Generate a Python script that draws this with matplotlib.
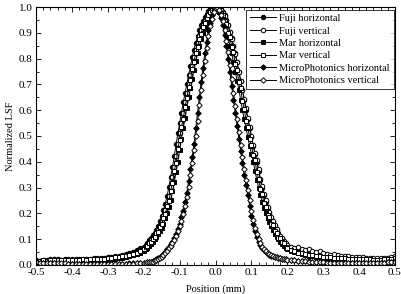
import numpy as np
import matplotlib
matplotlib.use("Agg")
import matplotlib.pyplot as plt
from matplotlib.ticker import MultipleLocator, FormatStrFormatter

plt.rcParams['font.family'] = 'serif'
plt.rcParams['font.serif'] = ['Liberation Serif', 'DejaVu Serif']
plt.rcParams['axes.unicode_minus'] = False

# position grid (mm): 0.01 steps in the tails, 0.005 steps in the core
position = np.round(np.concatenate([
    np.arange(-0.50, -0.205, 0.01),
    np.arange(-0.20, 0.2001, 0.005),
    np.arange(0.21, 0.5001, 0.01),
]), 3)

fuji_h = [
    .018, .017, .020, .019, .022, .021, .023, .020, .022, .021,
    .022, .021, .022, .023, .023, .024, .025, .025, .026, .027,
    .029, .031, .033, .036, .039, .042, .046, .051, .057, .064,
    .071, .078, .086, .095, .105, .115, .125, .137, .152, .170,
    .190, .212, .237, .267, .302, .340, .380, .422, .467, .510,
    .550, .590, .630, .667, .702, .737, .772, .805, .835, .862,
    .887, .910, .930, .947, .962, .975, .985, .992, .997, .999,
    1.000,
    .999, .997, .990, .980, .968, .950, .930, .905, .880, .850,
    .820, .785, .750, .715, .680, .640, .600, .565, .530, .495,
    .460, .430, .400, .365, .330, .300, .270, .245, .220, .200,
    .180, .165, .150, .135, .120, .110, .100, .090, .080, .072,
    .065, .059, .054, .050, .047, .044, .041, .039, .037, .035,
    .033, .032, .031, .030, .029, .028, .027, .026, .026, .025,
    .025, .024, .024, .024, .023, .023, .024, .025, .027, .030,
]

fuji_v = [
    .017, .015, .019, .016, .018, .021, .017, .019, .020, .017,
    .019, .020, .019, .020, .021, .020, .021, .023, .022, .024,
    .025, .026, .028, .030, .033, .035, .038, .042, .048, .055,
    .064, .071, .079, .086, .095, .105, .115, .125, .137, .152,
    .170, .190, .212, .237, .267, .302, .340, .380, .422, .467,
    .510, .550, .590, .630, .667, .702, .737, .772, .805, .835,
    .862, .887, .910, .930, .947, .962, .975, .985, .993, .998,
    1.000,
    .998, .994, .988, .978, .966, .950, .930, .905, .878, .850,
    .818, .785, .750, .715, .680, .645, .608, .570, .535, .500,
    .465, .435, .405, .370, .335, .305, .275, .250, .225, .205,
    .185, .170, .155, .140, .125, .113, .103, .093, .084, .076,
    .070, .066, .068, .062, .058, .060, .055, .050, .052, .046,
    .043, .040, .041, .037, .035, .034, .033, .031, .032, .030,
    .029, .028, .028, .027, .026, .026, .027, .028, .030, .033,
]

mar_h = [
    .012, .013, .014, .013, .015, .016, .015, .016, .016, .015,
    .016, .016, .017, .017, .017, .018, .018, .019, .019, .020,
    .021, .022, .024, .026, .028, .030, .033, .037, .042, .048,
    .055, .060, .067, .075, .082, .090, .100, .110, .120, .130,
    .145, .160, .180, .200, .225, .250, .285, .320, .360, .400,
    .445, .490, .530, .570, .610, .650, .685, .720, .755, .790,
    .820, .850, .875, .900, .920, .940, .955, .970, .980, .990,
    1.000,
    .990, .980, .968, .950, .930, .905, .880, .850, .820, .785,
    .750, .715, .680, .640, .600, .565, .530, .495, .460, .430,
    .400, .365, .330, .300, .270, .245, .220, .200, .180, .165,
    .150, .135, .120, .110, .100, .090, .080, .072, .065, .060,
    .054, .049, .045, .042, .039, .036, .034, .032, .030, .028,
    .026, .025, .024, .023, .022, .021, .020, .019, .019, .018,
    .018, .017, .017, .017, .016, .016, .017, .018, .020, .022,
]

mar_v = [
    .015, .016, .018, .017, .019, .020, .018, .020, .019, .018,
    .020, .019, .020, .021, .020, .021, .022, .022, .023, .024,
    .025, .027, .029, .031, .033, .035, .038, .042, .046, .052,
    .060, .068, .074, .083, .089, .101, .108, .122, .128, .147,
    .158, .183, .197, .228, .247, .288, .317, .364, .396, .449,
    .486, .534, .566, .614, .646, .689, .716, .759, .786, .823,
    .847, .878, .897, .922, .938, .957, .968, .982, .988, .997,
    1.000,
    .996, .991, .978, .970, .947, .933, .901, .884, .846, .824,
    .780, .755, .710, .685, .635, .605, .560, .535, .490, .465,
    .425, .405, .360, .335, .295, .275, .240, .225, .195, .185,
    .160, .155, .130, .125, .105, .103, .087, .083, .070, .067,
    .058, .052, .048, .045, .042, .040, .037, .035, .033, .031,
    .030, .029, .028, .027, .026, .025, .024, .024, .023, .022,
    .022, .021, .021, .020, .020, .020, .021, .022, .024, .027,
]

micro_h = [
    .008, .007, .007, .006, .006, .006, .005, .005, .005, .005,
    .004, .004, .004, .004, .004, .004, .004, .004, .004, .004,
    .004, .004, .004, .005, .005, .005, .006, .006, .007, .007,
    .008, .009, .010, .011, .012, .015, .018, .021, .025, .030,
    .035, .042, .050, .060, .070, .080, .090, .105, .120, .140,
    .160, .185, .210, .245, .280, .325, .370, .420, .470, .530,
    .590, .650, .710, .765, .820, .865, .910, .940, .970, .990,
    1.000,
    .993, .980, .958, .930, .890, .850, .800, .750, .695, .640,
    .590, .540, .490, .440, .395, .350, .310, .270, .230, .190,
    .160, .130, .110, .090, .077, .065, .057, .050, .045, .040,
    .036, .033, .031, .029, .027, .025, .024, .022, .021, .020,
    .019, .018, .017, .016, .015, .014, .013, .012, .011, .010,
    .009, .009, .008, .008, .008, .007, .007, .007, .006, .006,
    .006, .006, .006, .007, .007, .008, .009, .010, .012, .014,
]

micro_v = [
    .010, .009, .008, .008, .007, .007, .006, .006, .006, .005,
    .005, .005, .005, .005, .004, .004, .004, .004, .004, .004,
    .004, .004, .004, .004, .005, .005, .005, .005, .006, .006,
    .007, .008, .010, .010, .012, .013, .016, .020, .023, .027,
    .032, .038, .046, .055, .065, .075, .085, .097, .112, .130,
    .150, .172, .197, .227, .262, .302, .347, .395, .445, .500,
    .560, .620, .680, .737, .792, .842, .887, .925, .955, .980,
    .998,
    1.000, .987, .969, .944, .910, .870, .825, .775, .722, .667,
    .615, .565, .515, .465, .417, .372, .330, .290, .250, .210,
    .175, .145, .120, .100, .083, .071, .061, .053, .047, .042,
    .038, .034, .032, .030, .028, .026, .024, .023, .021, .020,
    .019, .018, .017, .016, .014, .013, .012, .011, .010, .010,
    .009, .008, .008, .007, .007, .007, .006, .006, .006, .006,
    .006, .006, .007, .007, .008, .008, .009, .010, .011, .013,
]

labels = ['Fuji horizontal', 'Fuji vertical', 'Mar horizontal', 'Mar vertical',
          'MicroPhotonics horizontal', 'MicroPhotonics vertical']
series = [fuji_h, fuji_v, mar_h, mar_v, micro_h, micro_v]
markers = ['o', 'o', 's', 's', 'D', 'D']
filled = [True, False, True, False, True, False]

fig = plt.figure(figsize=(4.01, 2.94), dpi=100)
ax = fig.add_axes([0.09, 0.099, 0.895, 0.877])

for y, lab, m, f in zip(series, labels, markers, filled):
    ax.plot(position, y, color='black', lw=0.7, marker=m,
            markersize=2.8 if m == 'D' else 3.2, markeredgewidth=0.7,
            markerfacecolor='black' if f else 'white',
            markeredgecolor='black', label=lab)

ax.set_xlim(-0.5, 0.5)
ax.set_ylim(0.0, 1.0)
ax.xaxis.set_major_locator(MultipleLocator(0.1))
ax.xaxis.set_minor_locator(MultipleLocator(0.02))
ax.yaxis.set_major_locator(MultipleLocator(0.1))
ax.yaxis.set_minor_locator(MultipleLocator(0.05))
ax.xaxis.set_major_formatter(FormatStrFormatter('%.1f'))
ax.yaxis.set_major_formatter(FormatStrFormatter('%.1f'))
ax.tick_params(which='both', direction='in', top=True, right=True,
               labelsize=8, width=0.6)
ax.tick_params(which='major', length=3.5, pad=2.5)
ax.tick_params(which='minor', length=2)
for s in ax.spines.values():
    s.set_linewidth(0.8)

ax.set_xlabel('Position (mm)', fontsize=7.5, labelpad=5)
ax.set_ylabel('Normalized LSF', fontsize=7.5, labelpad=3)

leg = ax.legend(loc='upper right', bbox_to_anchor=(0.997, 0.99), fontsize=7.5,
                frameon=True, fancybox=False, edgecolor='black',
                handlelength=2.5, handletextpad=0.3, labelspacing=0.3,
                borderpad=0.4, borderaxespad=0.0)
leg.get_frame().set_linewidth(0.7)

fig.savefig('out.png', dpi=100)
